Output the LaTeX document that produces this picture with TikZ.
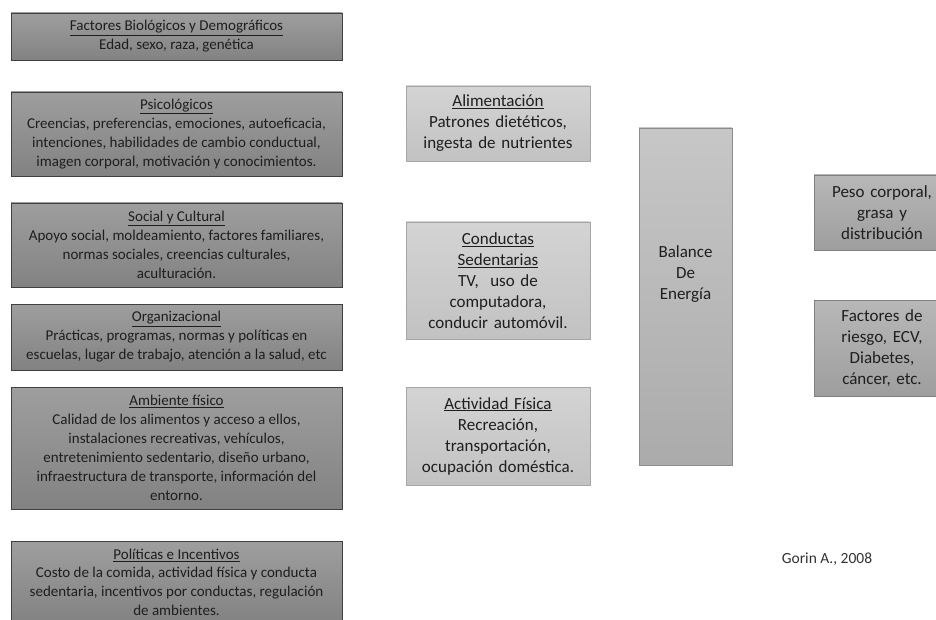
\documentclass[tikz,border=0pt]{standalone}
\usepackage{fontspec}
\setmainfont{Carlito}
\definecolor{txt}{HTML}{1E1E1E}
\begin{document}
\begin{tikzpicture}[x=1pt,y=-1pt,
  leftbox/.style={draw=black!75,line width=0.9pt,top color=black!38,bottom color=black!49,
    minimum width=331pt,inner sep=0pt,align=center,text=txt,
    font=\fontsize{15}{19}\selectfont},
  midbox/.style={draw=black!35,line width=0.9pt,top color=black!17,bottom color=black!24,
    minimum width=184pt,text width=180pt,inner sep=0pt,align=center,text=txt,
    font=\fontsize{17}{21}\selectfont},
  balbox/.style={draw=black!45,line width=0.9pt,top color=black!22,bottom color=black!33,
    minimum width=93pt,minimum height=337pt,inner sep=0pt},
  rightbox/.style={draw=black!50,line width=0.9pt,top color=black!28,bottom color=black!38,
    minimum width=136pt,text width=130pt,inner sep=0pt,align=center,text=txt,
    font=\fontsize{17}{21}\selectfont},
  plain/.style={inner sep=0pt,align=center,text=txt,font=\fontsize{17}{21}\selectfont}]
\useasboundingbox[fill=white] (0,0) rectangle (936,620);
\clip (0,0) rectangle (936,620);

\node[leftbox,minimum height=47pt] (bio) at (176.5,36.5)
  {\underline{Factores Biológicos y Demográficos}\\Edad, sexo, raza, genética};
\node[leftbox,minimum height=84pt] (psi) at (176.5,134)
  {\underline{Psicológicos}\\Creencias, preferencias, emociones, autoeficacia,\\intenciones, habilidades de cambio conductual,\\imagen corporal, motivación y conocimientos.};
\node[leftbox,minimum height=84pt] (soc) at (176.5,245)
  {\underline{Social y Cultural}\\Apoyo social, moldeamiento, factores familiares,\\normas sociales, creencias culturales,\\aculturación.};
\node[leftbox,minimum height=66pt] (org) at (176.5,337)
  {\underline{Organizacional}\\Prácticas, programas, normas y políticas en\\escuelas, lugar de trabajo, atención a la salud, etc};
\node[leftbox,minimum height=122pt] (amb) at (176.5,448)
  {\underline{Ambiente físico}\\Calidad de los alimentos y acceso a ellos,\\instalaciones recreativas, vehículos,\\entretenimiento sedentario, diseño urbano,\\infraestructura de transporte, información del\\entorno.};
\node[leftbox,minimum height=82pt,font=\fontsize{15}{18.6}\selectfont] (pol) at (176.5,582)
  {\underline{Políticas e Incentivos}\\Costo de la comida, actividad física y conducta\\sedentaria, incentivos por conductas, regulación\\de ambientes.};

\node[midbox,minimum height=75pt] (ali) at (498,123.5)
  {\underline{Alimentación}\\Patrones dietéticos,\\ingesta de nutrientes};
\node[midbox,minimum height=117pt] (sed) at (498,280.5)
  {\underline{Conductas}\\\underline{Sedentarias}\\TV,\ \ uso de\\computadora,\\conducir automóvil.};
\node[midbox,minimum height=98pt] (act) at (498,436)
  {\underline{Actividad Física}\\Recreación,\\transportación,\\ocupación doméstica.};

\node[balbox] (bal) at (685.5,296.5) {};
\node[plain] (balt) at ([yshift=22pt]bal.center) {Balance\\De\\Energía};

\node[rightbox,minimum height=75pt] (peso) at (882,212.5)
  {Peso corporal,\\grasa y\\distribución};
\node[rightbox,minimum height=96pt] (ries) at (882,348)
  {Factores de\\riesgo, ECV,\\Diabetes,\\cáncer, etc.};

\node[plain,font=\fontsize{15.5}{19}\selectfont,text=black!80] (gorin) at (827,559) {Gorin A., 2008};
\end{tikzpicture}
\end{document}
